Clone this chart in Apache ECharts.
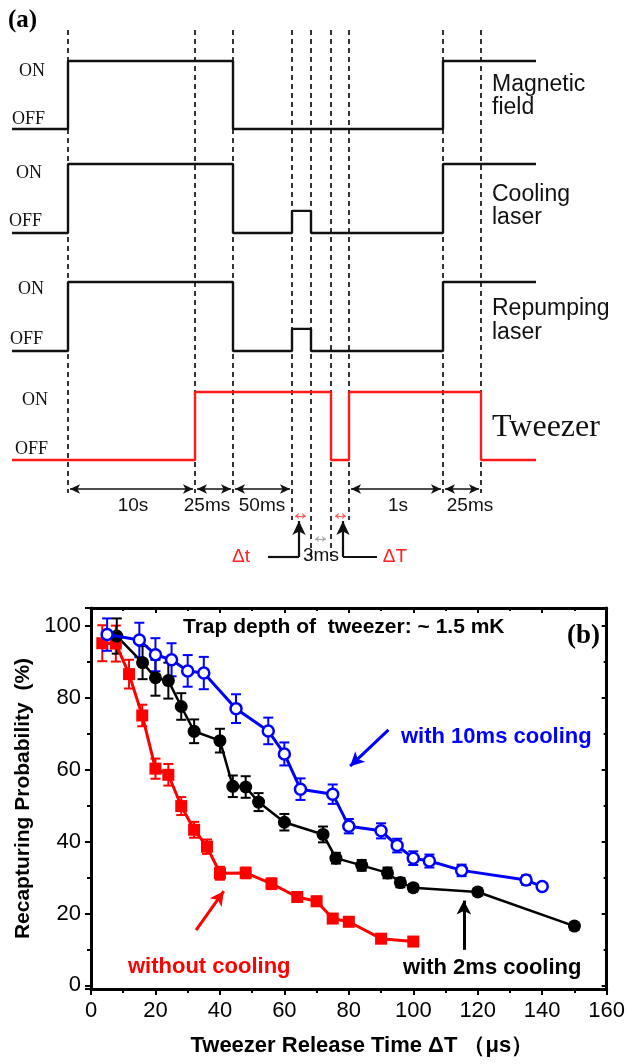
<!DOCTYPE html>
<html><head><meta charset="utf-8">
<script src="https://cdn.jsdelivr.net/npm/echarts@6/dist/echarts.min.js"></script>
<style>html,body{margin:0;padding:0;background:#fff}#c{width:628px;height:1064px}</style>
</head><body><div id="c"></div>
<script>
// ================= DATA =================
// Panel (a): timing sequence (schematic, not to scale)
const seqEdges      = [12, 68, 195, 233, 292, 311, 331, 349, 443, 481, 536]; // schematic time marks
const magneticField = [0, 1, 1, 0, 0,    0, 0, 0, 1, 1];   // state per interval
const coolingLaser  = [0, 1, 1, 0, 0.32, 0, 0, 0, 1, 1];
const repumpLaser   = [0, 1, 1, 0, 0.32, 0, 0, 0, 1, 1];
const tweezerBeam   = [0, 0, 1, 1, 1,    1, 0, 1, 1, 0];
const channelLabels = [['Magnetic', 'field'], ['Cooling', 'laser'], ['Repumping', 'laser'], ['Tweezer']];
const stateLabels   = ['ON', 'OFF'];
const durationLabels = ['10s', '25ms', '50ms', '1s', '25ms'];
const durationSpans  = [[1, 2], [2, 3], [3, 4], [7, 8], [8, 9]]; // edge indexes

// Panel (b): recapture probability vs release time
const xNoCool = [3.5, 7.7, 11.8, 15.9, 20, 24, 28, 32, 36, 40, 48, 56, 64, 70, 75, 80, 90, 100];
const yNoCool = [95.2, 95.1, 86.6, 75.1, 60.3, 58.6, 49.9, 43.3, 38.6, 31.2, 31.3, 28.3, 24.6, 23.4, 18.6, 17.7, 13.0, 12.2];
const eNoCool = [5, 5, 4, 3, 2.8, 3, 2.5, 2.2, 2, 1.8, 1.5, 1.5, 1.3, 1.3, 1.2, 1.2, 1, 1];

const x2ms = [8, 16, 20, 24, 28, 32, 40, 44, 48, 52, 60, 72, 76, 84, 92, 96, 100, 120, 150];
const y2ms = [97.2, 89.8, 85.6, 84.8, 77.6, 70.7, 68.1, 55.4, 55.2, 51, 45.4, 42, 35.4, 33.4, 31.3, 28.6, 27.2, 26, 16.5];
const e2ms = [4.9, 4.6, 5, 5, 3.7, 3.3, 3.3, 3, 3, 2.5, 2.3, 2.2, 1.5, 1.5, 1.5, 1.3, 1, 1, 1];

const x10ms = [5, 15, 20, 25, 30, 35, 45, 55, 60, 65, 75, 80, 90, 95, 100, 105, 115, 135, 140];
const y10ms = [97.6, 96.1, 92, 90.6, 87.5, 86.9, 77, 70.8, 64.4, 54.6, 53.2, 44.3, 43, 38.9, 35.4, 34.6, 32, 29.3, 27.5];
const e10ms = [4.5, 4.8, 4.6, 4.6, 4.4, 4.5, 4, 3.7, 3.2, 3, 2.7, 2, 2.1, 1.9, 1.9, 1.8, 1.6, 1.3, 1];

const xTickLabels = ['0', '20', '40', '60', '80', '100', '120', '140', '160'];
const yTickLabels = ['0', '20', '40', '60', '80', '100'];

// ================= LAYOUT / STYLE =================
const SANS = "'Liberation Sans', Arial, sans-serif";
const SERIF = "'Liberation Serif', 'Times New Roman', serif";
const chan = [ // OFF level, ON level (panel-a vertical coordinate)
  {off: 129, on: 61}, {off: 233, on: 164}, {off: 351, on: 282}, {off: 460, on: 392}
];
const signals = [magneticField, coolingLaser, repumpLaser, tweezerBeam];
const sigColors = ['#111', '#111', '#111', '#ff1a1a'];

function stepData(states, c) {
  const d = [];
  states.forEach((s, i) => {
    const y = c.off + (c.on - c.off) * s;
    d.push([seqEdges[i], y], [seqEdges[i + 1], y]);
  });
  return d;
}
const dashBottoms = [493, 493, 493, 520, 557, 557, 520, 493, 493];
const dashLines = seqEdges.slice(1, -1).map((x, i) => [{coord: [x, 30]}, {coord: [x, dashBottoms[i]]}]);
const spanArrows = durationSpans.map(([a, b]) => [{coord: [seqEdges[a] + 2, 489]}, {coord: [seqEdges[b] - 2, 489]}]);

const seriesA = signals.map((st, k) => ({
  type: 'line', xAxisIndex: 0, yAxisIndex: 0, data: stepData(st, chan[k]),
  showSymbol: false, silent: true, z: 5,
  lineStyle: {color: sigColors[k], width: 2.4}
}));
seriesA[0].markLine = {
  silent: true, symbol: ['none', 'none'], label: {show: false}, animation: false,
  lineStyle: {color: '#111', width: 1.7, type: [5, 4]},
  data: dashLines
};
seriesA[1].markLine = {
  silent: true, symbol: ['arrow', 'arrow'], symbolSize: [7, 10], label: {show: false}, animation: false,
  lineStyle: {color: '#111', width: 1.7, type: 'solid'},
  data: spanArrows
};
seriesA[2].markLine = {
  silent: true, symbol: ['arrow', 'arrow'], symbolSize: [5, 4], label: {show: false}, animation: false,
  lineStyle: {color: '#ff6060', width: 1.2, type: 'solid'},
  data: [
    [{coord: [295, 516]}, {coord: [306, 516]}],
    [{coord: [335, 516]}, {coord: [346, 516]}],
    [{coord: [315, 539], lineStyle: {color: '#aaa'}}, {coord: [326, 539]}]
  ]
};
seriesA[3].markLine = {
  silent: true, symbol: ['none', 'none'], label: {show: false}, animation: false,
  lineStyle: {color: '#111', width: 2.2, type: 'solid'},
  data: [
    [{coord: [268, 557]}, {coord: [299, 557]}],
    [{coord: [299, 557]}, {coord: [299, 521], symbol: 'arrow', symbolSize: [10, 14]}],
    [{coord: [377, 557]}, {coord: [343, 557]}],
    [{coord: [343, 557]}, {coord: [343, 521], symbol: 'arrow', symbolSize: [10, 14]}]
  ]
};

// error bar renderer
function errRender(color) {
  return function (params, api) {
    const x = api.value(0), y = api.value(1), e = api.value(2);
    const t = api.coord([x, y + e]), b = api.coord([x, y - e]);
    const hw = 5, st = {stroke: color, lineWidth: 2};
    return {type: 'group', children: [
      {type: 'line', shape: {x1: t[0], y1: t[1], x2: b[0], y2: b[1]}, style: st},
      {type: 'line', shape: {x1: t[0] - hw, y1: t[1], x2: t[0] + hw, y2: t[1]}, style: st},
      {type: 'line', shape: {x1: b[0] - hw, y1: b[1], x2: b[0] + hw, y2: b[1]}, style: st}
    ]};
  };
}
const zip3 = (a, b, c) => a.map((v, i) => [v, b[i], c[i]]);
const zip2 = (a, b) => a.map((v, i) => [v, b[i]]);

const RED = '#ff0000', BLUE = '#0000ff', BLACK = '#000000';

const seriesB = [
  {type: 'custom', xAxisIndex: 1, yAxisIndex: 1, renderItem: errRender(RED), data: zip3(xNoCool, yNoCool, eNoCool), z: 3, silent: true, encode: {x: 0, y: 1}},
  {type: 'custom', xAxisIndex: 1, yAxisIndex: 1, renderItem: errRender(BLACK), data: zip3(x2ms, y2ms, e2ms), z: 3, silent: true, encode: {x: 0, y: 1}},
  {type: 'custom', xAxisIndex: 1, yAxisIndex: 1, renderItem: errRender(BLUE), data: zip3(x10ms, y10ms, e10ms), z: 3, silent: true, encode: {x: 0, y: 1}},
  {name: 'without cooling', type: 'line', xAxisIndex: 1, yAxisIndex: 1, data: zip2(xNoCool, yNoCool),
   symbol: 'rect', symbolSize: 12, lineStyle: {color: RED, width: 3}, itemStyle: {color: RED}, z: 4,
   markLine: {silent: true, symbol: ['none', 'arrow'], symbolSize: [11, 14], label: {show: false}, animation: false,
     lineStyle: {color: RED, width: 3, type: 'solid'}, data: [[{coord: [32.6, 15.4]}, {coord: [41.2, 26.2]}]]}},
  {name: 'with 2ms cooling', type: 'line', xAxisIndex: 1, yAxisIndex: 1, data: zip2(x2ms, y2ms),
   symbol: 'circle', symbolSize: 13, lineStyle: {color: BLACK, width: 2.5}, itemStyle: {color: BLACK}, z: 4,
   markLine: {silent: true, symbol: ['none', 'arrow'], symbolSize: [11, 14], label: {show: false}, animation: false,
     lineStyle: {color: BLACK, width: 3, type: 'solid'}, data: [[{coord: [115.7, 9.9]}, {coord: [115.7, 23.6]}]]}},
  {name: 'with 10ms cooling', type: 'line', xAxisIndex: 1, yAxisIndex: 1, data: zip2(x10ms, y10ms),
   symbol: 'circle', symbolSize: 11, lineStyle: {color: BLUE, width: 3},
   itemStyle: {color: '#fff', borderColor: BLUE, borderWidth: 2.5}, z: 5,
   markLine: {silent: true, symbol: ['none', 'arrow'], symbolSize: [11, 14], label: {show: false}, animation: false,
     lineStyle: {color: BLUE, width: 3, type: 'solid'}, data: [[{coord: [92.3, 71.1]}, {coord: [80.4, 61.0]}]]}}
];

const axisCommon = {
  axisLine: {show: true, onZero: false, lineStyle: {color: '#000', width: 3}},
  splitLine: {show: false}
};

const graphics = [
  {type: 'text', x: 8, y: 21, style: {text: '(a)', font: 'bold 25px ' + SERIF, fill: '#000', verticalAlign: 'middle'}},
  {type: 'text', x: 567, y: 636, style: {text: '(b)', font: 'bold 27px ' + SERIF, fill: '#000', verticalAlign: 'middle'}},
  {type: 'text', x: 183, y: 627, style: {text: 'Trap depth of  tweezer: ~ 1.5 mK', font: 'bold 21px ' + SANS, fill: '#000', verticalAlign: 'middle'}},
  {type: 'text', x: 401, y: 737, style: {text: 'with 10ms cooling', font: 'bold 22px ' + SANS, fill: BLUE, verticalAlign: 'middle'}},
  {type: 'text', x: 128, y: 967, style: {text: 'without cooling', font: 'bold 22px ' + SANS, fill: RED, verticalAlign: 'middle'}},
  {type: 'text', x: 403, y: 968, style: {text: 'with 2ms cooling', font: 'bold 22px ' + SANS, fill: BLACK, verticalAlign: 'middle'}}
];
// state labels
const onX = [19, 16, 18, 22], offX = [12, 9, 10, 15];
const onDy = [10, 9, 7, 8], offDy = [-10, -12, -12, -11];
chan.forEach((c, k) => {
  graphics.push({type: 'text', x: onX[k], y: c.on + onDy[k], style: {text: stateLabels[0], font: '18px ' + SERIF, fill: '#111', verticalAlign: 'middle'}});
  graphics.push({type: 'text', x: offX[k], y: c.off + offDy[k], style: {text: stateLabels[1], font: '18px ' + SERIF, fill: '#111', verticalAlign: 'middle'}});
});
// channel labels
const chY = [[85, 108], [195, 218], [309, 333], [428]];
channelLabels.forEach((lines, k) => {
  lines.forEach((t, j) => {
    const isTw = k === 3;
    graphics.push({type: 'text', x: 492, y: chY[k][j],
      style: {text: t, font: isTw ? '32px ' + SERIF : '23px ' + SANS, fill: '#111', verticalAlign: 'middle'}});
  });
});
// duration labels
const durX = [133, 207, 262, 398, 470];
durationLabels.forEach((t, i) => {
  graphics.push({type: 'text', x: durX[i], y: 506, style: {text: t, font: '19px ' + SANS, fill: '#111', align: 'center', verticalAlign: 'middle'}});
});
graphics.push({type: 'text', x: 241, y: 557, style: {text: 'Δt', font: '19px ' + SANS, fill: '#ff2020', align: 'center', verticalAlign: 'middle'}});
graphics.push({type: 'text', x: 321, y: 556, style: {text: '3ms', font: '19px ' + SANS, fill: '#111', align: 'center', verticalAlign: 'middle'}});
graphics.push({type: 'text', x: 395, y: 557, style: {text: 'ΔT', font: '19px ' + SANS, fill: '#ff2020', align: 'center', verticalAlign: 'middle'}});

const option = {
  animation: false,
  backgroundColor: '#fff',
  grid: [
    {left: 0, top: 0, width: 628, height: 580},
    {left: 91, top: 608, width: 520, height: 381}
  ],
  xAxis: [
    {type: 'value', gridIndex: 0, min: 0, max: 628, show: false},
    Object.assign({}, axisCommon, {
      type: 'value', gridIndex: 1, position: 'bottom', min: 0, max: 160, interval: 20,
      axisTick: {show: true, inside: false, length: 6, lineStyle: {color: '#000', width: 2}},
      minorTick: {show: true, splitNumber: 2, length: 4, lineStyle: {color: '#000', width: 2}},
      axisLabel: {show: true, fontSize: 22, color: '#000', fontFamily: SANS, margin: 11,
        formatter: v => xTickLabels[Math.round(v / 20)] ?? ''},
      name: 'Tweezer Release Time ΔT （μs）', nameLocation: 'middle', nameGap: 46,
      nameTextStyle: {fontSize: 22, fontWeight: 'bold', color: '#000', fontFamily: SANS, padding: [0, 0, 0, 26]}
    }),
    Object.assign({}, axisCommon, {
      type: 'value', gridIndex: 1, position: 'top', min: 0, max: 160, interval: 20,
      axisTick: {show: true, inside: true, length: 5, lineStyle: {color: '#000', width: 2}},
      minorTick: {show: true, splitNumber: 2, length: 3, lineStyle: {color: '#000', width: 2}},
      axisLabel: {show: false}
    })
  ],
  yAxis: [
    {type: 'value', gridIndex: 0, min: 0, max: 580, inverse: true, show: false},
    Object.assign({}, axisCommon, {
      type: 'value', gridIndex: 1, position: 'left', min: -1, max: 105, splitNumber: 5,
      axisTick: {show: true, inside: false, length: 6, lineStyle: {color: '#000', width: 2}},
      minorTick: {show: true, splitNumber: 2, length: 4, lineStyle: {color: '#000', width: 2}},
      axisLabel: {show: true, fontSize: 22, color: '#000', fontFamily: SANS, margin: 10,
        showMinLabel: false, showMaxLabel: false,
        formatter: v => (v >= 0 && v % 20 === 0) ? yTickLabels[v / 20] : ''},
      name: 'Recapturing Probability  (%)', nameLocation: 'middle', nameGap: 57,
      nameTextStyle: {fontSize: 21, fontWeight: 'bold', color: '#000', fontFamily: SANS}
    }),
    Object.assign({}, axisCommon, {
      type: 'value', gridIndex: 1, position: 'right', min: -1, max: 105, splitNumber: 5,
      axisTick: {show: true, inside: true, length: 5, lineStyle: {color: '#000', width: 2}},
      minorTick: {show: true, splitNumber: 2, length: 3, lineStyle: {color: '#000', width: 2}},
      axisLabel: {show: false}
    })
  ],
  series: seriesA.concat(seriesB),
  graphic: graphics
};
const chart = echarts.init(document.getElementById('c'), null, {renderer: 'canvas'});
chart.setOption(option);
</script></body></html>
